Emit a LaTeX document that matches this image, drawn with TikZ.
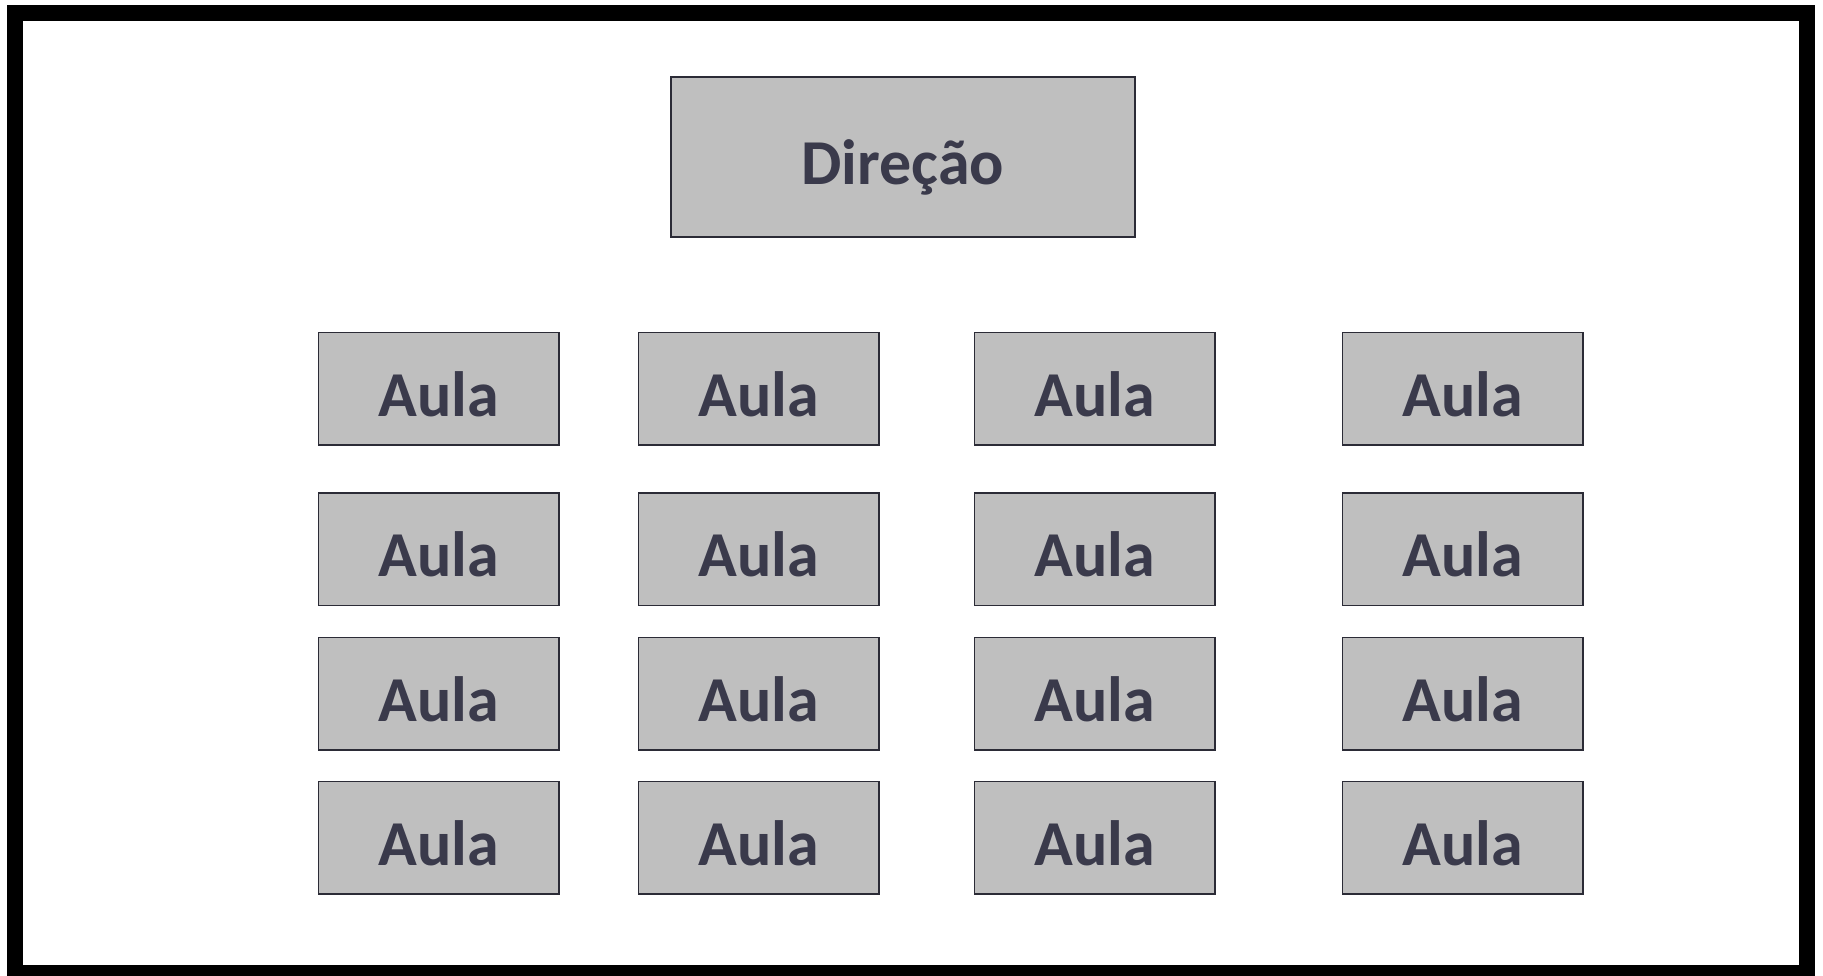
\documentclass[tikz,border=0pt]{standalone}
\usepackage{fontspec}
\setmainfont{Carlito}
\usepackage{tikz}
\usetikzlibrary{positioning}
\definecolor{boxgray}{HTML}{BFBFBF}
\definecolor{boxline}{HTML}{2B2B36}
\definecolor{boxtext}{HTML}{3A3A4B}
\tikzset{
  cell/.style={rectangle,draw=boxline,fill=boxgray,line width=0.75pt,inner sep=0pt,
    text=boxtext,font=\fontsize{32pt}{39pt}\selectfont\bfseries,
    text height=31.5pt,text depth=4pt},
  aula/.style={cell,minimum width=120.25pt,minimum height=56.25pt},
  head/.style={cell,minimum width=232pt,minimum height=80pt}
}

\begin{document}
\begin{tikzpicture}[x=0.5pt,y=-0.5pt]
    \useasboundingbox (0,0) rectangle (1823,975);
    \draw[line width=8pt] (15,13) rectangle (1807,973);
    \node (direcao) at (903,157) [head] {Direção};
    % primeira fila
    \node (aula11) at (438.8,388.8) [aula] {Aula};
    \node (aula12) at (758.7,388.8) [aula] {Aula};
    \node (aula13) at (1094.7,388.8) [aula] {Aula};
    \node (aula14) at (1462.8,388.8) [aula] {Aula};
    % segunda fila
    \node (aula21) at (438.8,549.3) [aula] {Aula};
    \node (aula22) at (758.7,549.3) [aula] {Aula};
    \node (aula23) at (1094.7,549.3) [aula] {Aula};
    \node (aula24) at (1462.8,549.3) [aula] {Aula};
    % terceira fila
    \node (aula31) at (438.8,693.5) [aula] {Aula};
    \node (aula32) at (758.7,693.5) [aula] {Aula};
    \node (aula33) at (1094.7,693.5) [aula] {Aula};
    \node (aula34) at (1462.8,693.5) [aula] {Aula};
    % quarta fila
    \node (aula41) at (438.8,837.5) [aula] {Aula};
    \node (aula42) at (758.7,837.5) [aula] {Aula};
    \node (aula43) at (1094.7,837.5) [aula] {Aula};
    \node (aula44) at (1462.8,837.5) [aula] {Aula};
\end{tikzpicture}
\end{document}
